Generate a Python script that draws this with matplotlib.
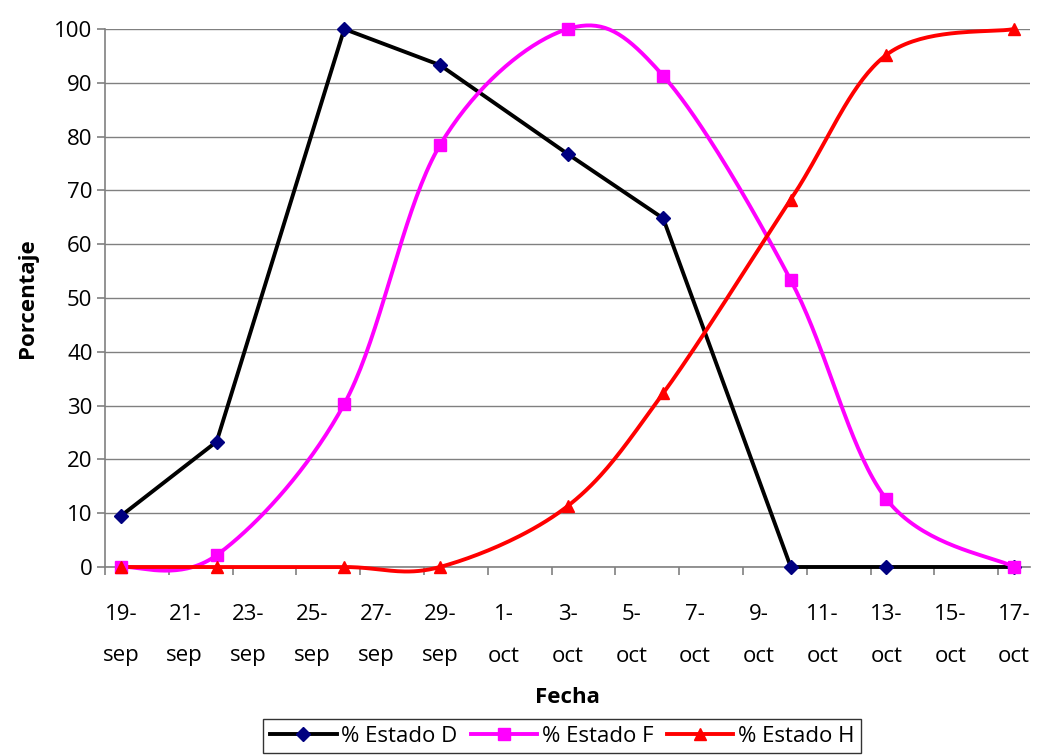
import numpy as np
import matplotlib
matplotlib.use("Agg")
import matplotlib.pyplot as plt
from matplotlib.lines import Line2D

# Sampling dates (days counted from 19-sep)
fechas = ["19-sep", "22-sep", "26-sep", "29-sep", "3-oct", "6-oct", "10-oct", "13-oct", "17-oct"]
dias = [0, 3, 7, 10, 14, 17, 21, 24, 28]

estado_d = [9.5, 23.3, 100.0, 93.3, 76.8, 64.8, 0.0, 0.0, 0.0]
estado_f = [0.0, 2.2, 30.3, 78.4, 100.0, 91.3, 53.3, 12.6, 0.0]
estado_h = [0.0, 0.0, 0.0, 0.0, 11.3, 32.3, 68.3, 95.2, 100.0]

tick_dias = list(range(0, 29, 2))
tick_labels = ["19-\nsep", "21-\nsep", "23-\nsep", "25-\nsep", "27-\nsep", "29-\nsep",
               "1-\noct", "3-\noct", "5-\noct", "7-\noct", "9-\noct", "11-\noct",
               "13-\noct", "15-\noct", "17-\noct"]


def suavizar(x, y, n=40):
    """Smoothed line through the points using cubic Bezier segments
    with Catmull-Rom style control points."""
    p = np.column_stack([x, y]).astype(float)
    pts = [p[0]] + list(p) + [p[-1]]
    out = []
    t = np.linspace(0, 1, n)[:, None]
    for i in range(1, len(pts) - 2):
        p0, p1, p2, p3 = pts[i - 1], pts[i], pts[i + 1], pts[i + 2]
        c1 = p1 + (p2 - p0) / 6.0
        c2 = p2 - (p3 - p1) / 6.0
        seg = ((1 - t) ** 3) * p1 + 3 * ((1 - t) ** 2) * t * c1 + 3 * (1 - t) * t ** 2 * c2 + t ** 3 * p2
        out.append(seg if i == 1 else seg[1:])
    arr = np.vstack(out)
    return arr[:, 0], arr[:, 1]


plt.rcParams["font.family"] = ["Open Sans", "DejaVu Sans"]

fig = plt.figure(figsize=(10.38, 7.56), dpi=100)
ax = fig.add_axes([105 / 1038, 1 - 567 / 756, (1030 - 105) / 1038, (567 - 29) / 756])

gris = "#808080"
lw = 2.8
fs = 16

# Series
ax.plot(dias, estado_d, color="black", lw=lw, zorder=3, clip_on=False)
ax.plot(dias, estado_d, ls="none", marker="D", ms=7.5, color="#000080", zorder=4, clip_on=False)

xs, ys = suavizar(dias, estado_f)
ax.plot(xs, ys, color="#FF00FF", lw=lw, zorder=3, clip_on=False)
ax.plot(dias, estado_f, ls="none", marker="s", ms=8, color="#FF00FF", zorder=4, clip_on=False)

xs, ys = suavizar(dias, estado_h)
ax.plot(xs, ys, color="#FF0000", lw=lw, zorder=3, clip_on=False)
ax.plot(dias, estado_h, ls="none", marker="^", ms=9, color="#FF0000", zorder=4, clip_on=False)

# Axes
ax.set_xlim(-0.5, 28.5)
ax.set_ylim(0, 100)
ax.set_yticks(range(0, 101, 10))
ax.yaxis.grid(True, color=gris, lw=1)
ax.set_axisbelow(True)
for s in ["top", "right"]:
    ax.spines[s].set_visible(False)
for s in ["left", "bottom"]:
    ax.spines[s].set_color(gris)
    ax.spines[s].set_linewidth(1.2)

ax.set_xticks(tick_dias)
ax.set_xticklabels(tick_labels, linespacing=2.25)
ax.set_xticks(np.arange(-0.5, 28, 2), minor=True)
ax.tick_params(axis="x", which="major", length=0, pad=27, labelsize=fs)
ax.tick_params(axis="x", which="minor", length=6, color=gris, width=1.2, direction="out")
ax.tick_params(axis="y", length=6, color=gris, width=1.2, labelsize=fs, pad=3)

ax.set_xlabel("Fecha", fontsize=fs, fontweight="bold", labelpad=15)
ax.set_ylabel("Porcentaje", fontsize=fs, fontweight="bold", labelpad=12)

handles = [
    Line2D([], [], color="black", lw=lw, marker="D", ms=7.5, mfc="#000080", mec="#000080"),
    Line2D([], [], color="#FF00FF", lw=lw, marker="s", ms=8),
    Line2D([], [], color="#FF0000", lw=lw, marker="^", ms=9),
]
leg = fig.legend(handles, ["% Estado D", "% Estado F", "% Estado H"], loc="upper center",
                 bbox_to_anchor=(562 / 1038, 1 - 719 / 756), ncol=3, fontsize=fs,
                 frameon=True, fancybox=False, edgecolor="black", handlelength=3.0,
                 handletextpad=0.2, columnspacing=0.6, borderpad=0.3, borderaxespad=0)
leg.get_frame().set_linewidth(1.0)

fig.savefig("out.png", dpi=100)
